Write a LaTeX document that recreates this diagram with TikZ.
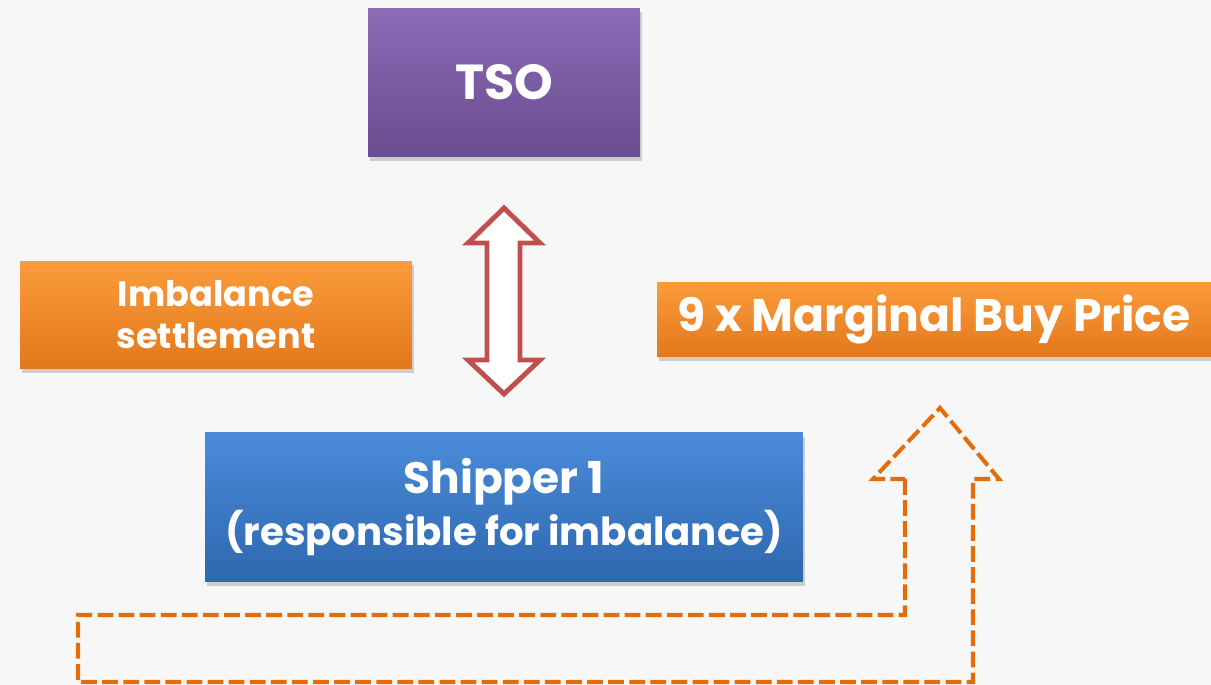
\documentclass[tikz,border=0pt]{standalone}
\usepackage{fontspec}
\setmainfont{Poppins}
\usetikzlibrary{shadows}

\definecolor{bgGray}{HTML}{F7F7F7}
\definecolor{tsoTop}{HTML}{8A6BB6}
\definecolor{tsoBot}{HTML}{6A4C90}
\definecolor{orTop}{HTML}{FB9C3C}
\definecolor{orBot}{HTML}{E2781C}
\definecolor{blTop}{HTML}{4A8BDA}
\definecolor{blBot}{HTML}{2E68AE}
\definecolor{arrRed}{HTML}{C0504D}
\definecolor{arrOrange}{HTML}{E46C0A}

\tikzset{
  tile/.style={rectangle, text=white, align=center, inner sep=0pt,
    drop shadow={shadow xshift=1pt, shadow yshift=-2.5pt, opacity=0.35}},
  purpletile/.style={tile, top color=tsoTop, bottom color=tsoBot},
  orangetile/.style={tile, top color=orTop, bottom color=orBot},
  bluetile/.style={tile, top color=blTop, bottom color=blBot},
  blockarrow/.style={draw=arrRed, fill=white, line width=2.8pt, line join=miter},
  dasharrow/.style={draw=arrOrange, line width=2.3pt, dash pattern=on 9pt off 3pt}
}

\begin{document}
\begin{tikzpicture}[x=0.02cm, y=-0.02cm]
\fill[bgGray] (0,0) rectangle (1211,685);
\useasboundingbox (0,0) rectangle (1211,685);

% boxes
\node[purpletile, minimum width=5.44cm, minimum height=2.98cm,
  font=\bfseries\fontsize{28}{30}\selectfont] (tso) at (504,82.5) {TSO};
\node[orangetile, minimum width=7.84cm, minimum height=2.16cm,
  font=\bfseries\fontsize{20}{24}\selectfont] (settle) at (216,315) {Imbalance\\ settlement};
\node[orangetile, minimum width=11.08cm, minimum height=1.5cm,
  font=\bfseries\fontsize{26}{30}\selectfont] (price) at (934,319.5) {9 x Marginal Buy Price};
\node[bluetile, minimum width=11.96cm, minimum height=2.98cm,
  font=\bfseries\fontsize{22}{30}\selectfont] (shipper) at (504,507)
  {{\fontsize{25}{30}\selectfont Shipper 1}\\ (responsible for imbalance)};

% two-way arrow TSO <-> shipper
\draw[blockarrow] (504,208) -- (540,243) -- (520,243) -- (520,360) -- (540,360)
  -- (504,394) -- (468,360) -- (487,360) -- (487,243) -- (468,243) -- cycle;

% dashed arrow up to the price
\draw[dasharrow] (905,479) -- (905,615) -- (78,615) -- (78,682) -- (973,682)
  -- (973,479) -- (999,479) -- (940,408) -- (873,479) -- cycle;
\end{tikzpicture}
\end{document}
